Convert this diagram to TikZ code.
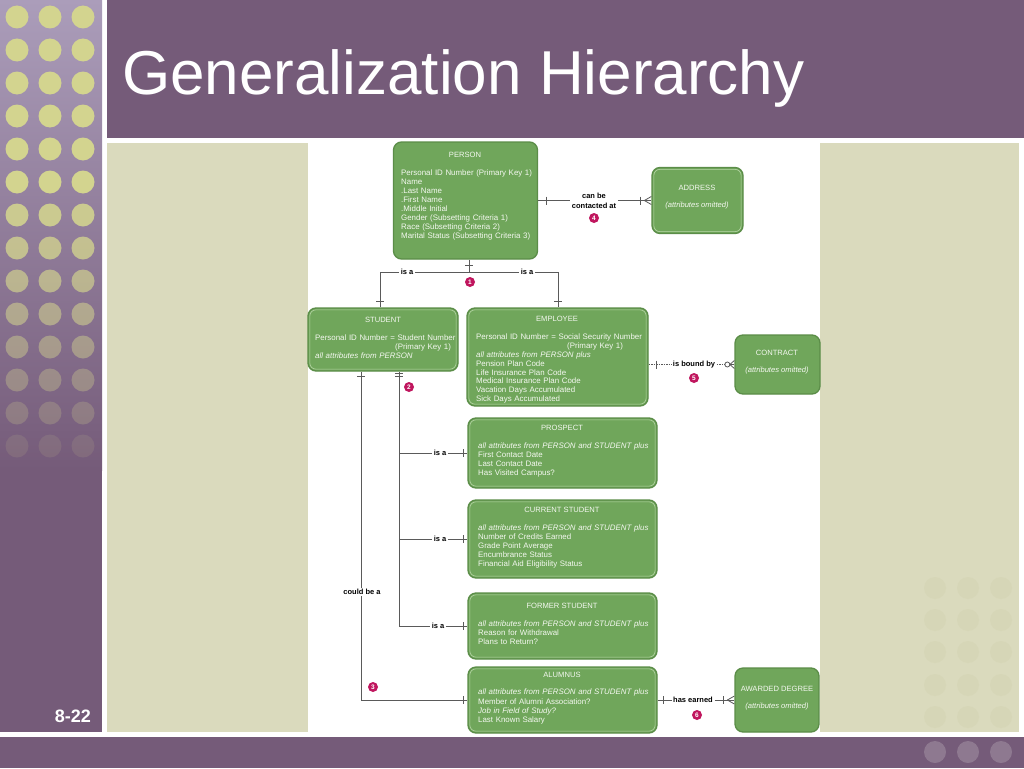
\documentclass[tikz,border=0pt]{standalone}
\usepackage{fontspec}
\setmainfont{Liberation Sans}
\usepackage{tikz}
\setlength{\parindent}{0pt}

\definecolor{slidepurple}{HTML}{755B79}
\definecolor{striptop}{HTML}{AB9DBA}
\definecolor{dotgreen}{HTML}{D3D48F}
\definecolor{khaki}{HTML}{DADABD}
\definecolor{khakidot}{HTML}{CFCFAA}
\definecolor{bardot}{HTML}{8E7990}
\definecolor{entgreen}{HTML}{70A65B}
\definecolor{entborder}{HTML}{5B8D48}
\definecolor{entinset}{HTML}{B9D8A8}
\definecolor{enttext}{HTML}{F4F8F0}
\definecolor{linegray}{HTML}{5A5A5A}
\definecolor{badgered}{HTML}{C0165E}

\tikzset{
  entity/.style={draw=entborder, line width=1.3pt, fill=entgreen, rounded corners=8pt, inner sep=0pt},
  inset/.style={draw=entinset, line width=0.6pt, rounded corners=6pt},
  etitle/.style={text=enttext, font=\fontsize{7.6}{9}\selectfont, inner sep=0pt},
  attrs/.style={anchor=north west, text=enttext, font=\fontsize{7.9}{9}\selectfont, inner sep=0pt, align=left},
  conn/.style={draw=linegray, line width=0.8pt},
  rel/.style={font=\bfseries\fontsize{7.5}{10}\selectfont, inner sep=1.5pt, align=center},
  numdot/.style={circle, fill=badgered, text=white, font=\bfseries\fontsize{6.5}{6.5}\selectfont, inner sep=0pt, minimum size=10pt},
}

\begin{document}
\begin{tikzpicture}[x=1pt, y=-1pt]
\useasboundingbox (0,0) rectangle (1024,768);

\shade[top color=striptop, bottom color=slidepurple] (0,0) rectangle (102,470);
\fill[slidepurple] (0,469) rectangle (102,732);
\foreach \r in {0,...,13}
  \foreach \c in {17,50,83} {
    \pgfmathsetmacro\op{\r<6 ? 1 : max(0.1,1-(\r-5)*0.11)}
    \fill[dotgreen, opacity=\op] (\c,{17+33*\r}) circle (11.5pt);
  }
\fill[slidepurple] (107,0) rectangle (1024,138);
\fill[slidepurple] (0,737) rectangle (1024,768);
\foreach \c in {935,968,1001}
  \fill[bardot] (\c,752) circle (11pt);
\fill[khaki] (107,143) rectangle (1019,732);
\foreach \r in {588,620,652,685,717}
  \foreach \c in {935,968,1001}
    \fill[khakidot, opacity=0.3] (\c,\r) circle (11pt);
\fill[white] (308,140) rectangle (820,736);

\node[anchor=base west, text=white, font=\fontsize{62}{62}\selectfont, inner sep=0pt] (title) at (122,94) {Generalization Hierarchy};
\node[anchor=base east, text=white, font=\bfseries\fontsize{18}{18}\selectfont, inner sep=0pt] (slideno) at (91,722) {8-22};

% entities
\node[entity, minimum width=144pt, minimum height=117pt] (person) at (465.5,200.5) {};
\node[entity, minimum width=91pt, minimum height=66pt] (address) at (697.5,200.5) {};
\node[entity, minimum width=150pt, minimum height=63pt] (student) at (383,339.5) {};
\node[entity, minimum width=181pt, minimum height=98pt] (employee) at (557.5,357) {};
\node[entity, minimum width=85pt, minimum height=59pt] (contract) at (777.5,364.5) {};
\node[entity, minimum width=189pt, minimum height=70pt] (prospect) at (562.5,453) {};
\node[entity, minimum width=189pt, minimum height=78pt] (current) at (562.5,539) {};
\node[entity, minimum width=189pt, minimum height=66pt] (former) at (562.5,626) {};
\node[entity, minimum width=189pt, minimum height=66pt] (alumnus) at (562.5,700) {};
\node[entity, minimum width=84pt, minimum height=64pt] (degree) at (777,700) {};

\foreach \n in {address,student,employee,prospect,current,former,alumnus}
  \draw[inset] ([shift={(2.5pt,-2.5pt)}]\n.north west) rectangle ([shift={(-2.5pt,2.5pt)}]\n.south east);

\node[etitle] (person-t) at (465,155) {PERSON};
\node[attrs, text width=136pt] (person-a) at (401,170) {Personal ID Number (Primary Key 1)\\Name\\.Last Name\\.First Name\\.Middle Initial\\Gender (Subsetting Criteria 1)\\Race (Subsetting Criteria 2)\\Marital Status (Subsetting Criteria 3)};

\node[etitle] (address-t) at (697,188) {ADDRESS};
\node[etitle] (address-a) at (697,206) {\itshape (attributes omitted)};

\node[etitle] (student-t) at (383,320) {STUDENT};
\node[attrs, text width=141pt] (student-a) at (315,335) {Personal ID Number = Student Number\\\hspace*{80pt}(Primary Key 1)\\\textit{all attributes from PERSON}};

\node[etitle] (employee-t) at (557,319) {EMPLOYEE};
\node[attrs, text width=170pt, font=\fontsize{7.9}{8.8}\selectfont] (employee-a) at (476,334) {Personal ID Number = Social Security Number\\\hspace*{91pt}(Primary Key 1)\\\textit{all attributes from PERSON plus}\\Pension Plan Code\\Life Insurance Plan Code\\Medical Insurance Plan Code\\Vacation Days Accumulated\\Sick Days Accumulated};

\node[etitle] (contract-t) at (777,353) {CONTRACT};
\node[etitle] (contract-a) at (777,371) {\itshape (attributes omitted)};

\node[etitle] (prospect-t) at (562,428) {PROSPECT};
\node[attrs, text width=176pt] (prospect-a) at (478,443) {\textit{all attributes from PERSON and STUDENT plus}\\First Contact Date\\Last Contact Date\\Has Visited Campus?};

\node[etitle] (current-t) at (562,510) {CURRENT STUDENT};
\node[attrs, text width=176pt] (current-a) at (478,525) {\textit{all attributes from PERSON and STUDENT plus}\\Number of Credits Earned\\Grade Point Average\\Encumbrance Status\\Financial Aid Eligibility Status};

\node[etitle] (former-t) at (562,606) {FORMER STUDENT};
\node[attrs, text width=176pt] (former-a) at (478,621) {\textit{all attributes from PERSON and STUDENT plus}\\Reason for Withdrawal\\Plans to Return?};

\node[etitle] (alumnus-t) at (562,675) {ALUMNUS};
\node[attrs, text width=176pt, font=\fontsize{7.9}{9.3}\selectfont] (alumnus-a) at (478,689) {\textit{all attributes from PERSON and STUDENT plus}\\Member of Alumni Association?\\\textit{Job in Field of Study?}\\Last Known Salary};

\node[etitle] (degree-t) at (777,689) {AWARDED DEGREE};
\node[etitle] (degree-a) at (777,707) {\itshape (attributes omitted)};

% person - address
\node[rel] (contact) at (594,200.5) {can be\\contacted at};
\draw[conn] (person.east) -- (contact.west);
\draw[conn] (contact.east) -- (address.west);
\draw[conn] ([xshift=8pt,yshift=4pt]person.east) -- ([xshift=8pt,yshift=-4pt]person.east);
\draw[conn] ([xshift=-11pt,yshift=4pt]address.west) -- ([xshift=-11pt,yshift=-4pt]address.west);
\draw[conn] ([xshift=-7pt]address.west) -- ([yshift=4pt]address.west);
\draw[conn] ([xshift=-7pt]address.west) -- ([yshift=-4pt]address.west);
\node[numdot] (n4) at (594,218) {4};

% person is a student / employee
\coordinate (isa) at (469,272);
\coordinate (isaL) at (380,272);
\coordinate (isaR) at (558,272);
\node[rel] (isa1) at (407,272) {is a};
\node[rel] (isa2) at (527,272) {is a};
\draw[conn] (person.south -| isa) -- (isa);
\draw[conn] (student.north -| isaL) -- (isaL) -- (isa1.west);
\draw[conn] (isa1.east) -- (isa2.west);
\draw[conn] (isa2.east) -- (isaR) -- (employee.north -| isaR);
\draw[conn] (465,265) -- (473,265);
\draw[conn] (376,301) -- (384,301);
\draw[conn] (554,301) -- (562,301);
\node[numdot] (n1) at (470,282) {1};

% employee - contract
\node[rel] (bound) at (694,364.5) {is bound by};
\draw[conn, dash pattern=on 1.5pt off 1pt] (employee.east |- bound) -- (bound.west);
\draw[conn, dash pattern=on 1.5pt off 1pt] (bound.east) -- ([xshift=-9.5pt]contract.west);
\draw[conn] ([xshift=8pt,yshift=4pt]employee.east |- bound) -- ([xshift=8pt,yshift=-4pt]employee.east |- bound);
\draw[conn] ([xshift=-7pt]contract.west) circle (2.5pt);
\draw[conn] ([xshift=-4.5pt]contract.west) -- (contract.west);
\draw[conn] ([xshift=-4.5pt]contract.west) -- ([yshift=4pt]contract.west);
\draw[conn] ([xshift=-4.5pt]contract.west) -- ([yshift=-4pt]contract.west);
\node[numdot] (n5) at (694,378) {5};

% student subtypes
\coordinate (stem) at (399,626);
\draw[conn] (student.south -| stem) -- (stem);
\draw[conn] (395,373) -- (403,373);
\draw[conn] (395,376) -- (403,376);
\node[numdot] (n2) at (409,387) {2};
\node[rel] (isa3) at (440,453) {is a};
\draw[conn] (isa3.west -| stem) -- (isa3.west);
\draw[conn] (isa3.east) -- (prospect.west);
\draw[conn] (463,449) -- (463,457);
\node[rel] (isa4) at (440,539) {is a};
\draw[conn] (isa4.west -| stem) -- (isa4.west);
\draw[conn] (isa4.east) -- (current.west);
\draw[conn] (463,535) -- (463,543);
\node[rel] (isa5) at (438,626) {is a};
\draw[conn] (stem) -- (isa5.west);
\draw[conn] (isa5.east) -- (former.west);
\draw[conn] (463,622) -- (463,630);

% student could be alumnus
\coordinate (alum) at (361,700);
\node[rel] (could) at (362,592) {could be a};
\draw[conn] (student.south -| alum) -- (could.north -| alum);
\draw[conn] (could.south -| alum) -- (alum) -- (alumnus.west);
\draw[conn] (357,376) -- (365,376);
\draw[conn] (463,696) -- (463,704);
\node[numdot] (n3) at (373,687) {3};

% alumnus - degree
\node[rel] (earned) at (693,700) {has earned};
\draw[conn] (alumnus.east) -- (earned.west);
\draw[conn] (earned.east) -- (degree.west);
\draw[conn] ([xshift=6pt,yshift=4pt]alumnus.east) -- ([xshift=6pt,yshift=-4pt]alumnus.east);
\draw[conn] ([xshift=-11pt,yshift=4pt]degree.west) -- ([xshift=-11pt,yshift=-4pt]degree.west);
\draw[conn] ([xshift=-7pt]degree.west) -- ([yshift=4pt]degree.west);
\draw[conn] ([xshift=-7pt]degree.west) -- ([yshift=-4pt]degree.west);
\node[numdot] (n6) at (697,715) {6};
\end{tikzpicture}
\end{document}
